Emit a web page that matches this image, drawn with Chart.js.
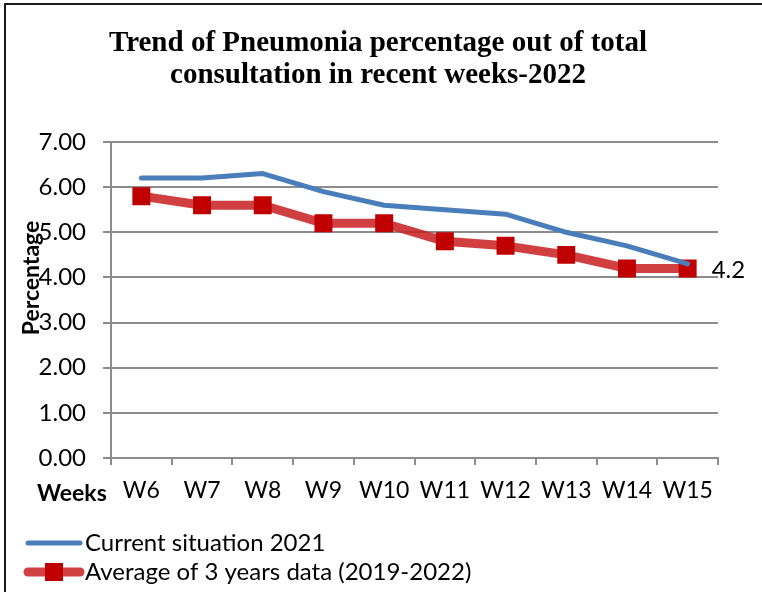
<!DOCTYPE html>
<html>
<head>
<meta charset="utf-8">
<script src="https://cdn.jsdelivr.net/npm/chart.js@4/dist/chart.umd.min.js"></script>
<style>
  html, body { margin: 0; padding: 0; background: #fff; }
  #wrap { position: relative; width: 762px; height: 592px; }
</style>
</head>
<body>
<div id="wrap"><canvas id="c" width="762" height="592"></canvas></div>
<script>
// Weekly pneumonia share of all consultations
const weeks = ['W6', 'W7', 'W8', 'W9', 'W10', 'W11', 'W12', 'W13', 'W14', 'W15'];
const current2021 = [6.2, 6.2, 6.3, 5.9, 5.6, 5.5, 5.4, 5.0, 4.7, 4.3];
const average3yr = [5.8, 5.6, 5.6, 5.2, 5.2, 4.8, 4.7, 4.5, 4.2, 4.2];
const yTicks = [0, 1, 2, 3, 4, 5, 6, 7];

const seriesNames = ['Current situation 2021', 'Average of 3 years data (2019-2022)'];
const titleLines = ['Trend of Pneumonia percentage out of total', 'consultation in recent weeks-2022'];

const BLUE = '#4a7ebb';
const RED_LINE = 'rgba(200, 30, 30, 0.85)';
const RED_MARK = '#c00000';
const GRID = '#8c8c8c';
const SANS = 'Lato, "Open Sans", sans-serif';

// Frame, axis captions, legend and end-of-series value label
const decor = {
  id: 'decor',
  afterDraw(chart) {
    const ctx = chart.ctx;
    ctx.save();

    // outer frame (top and left edges)
    ctx.strokeStyle = '#1a1a1a';
    ctx.lineWidth = 2;
    ctx.beginPath();
    ctx.moveTo(5, 592);
    ctx.lineTo(5, 4);
    ctx.lineTo(762, 4);
    ctx.stroke();

    // y-axis caption
    ctx.fillStyle = '#000';
    ctx.font = 'bold 23px ' + SANS;
    ctx.textAlign = 'center';
    ctx.textBaseline = 'middle';
    ctx.save();
    ctx.translate(32, 278);
    ctx.rotate(-Math.PI / 2);
    ctx.fillText('Percentage', 0, 0);
    ctx.restore();

    // x-axis caption
    ctx.textAlign = 'left';
    ctx.textBaseline = 'alphabetic';
    ctx.font = 'bold 23px ' + SANS;
    ctx.fillText('Weeks', 37, 501);

    // value label at the last point of the average series
    const meta = chart.getDatasetMeta(1);
    const last = average3yr.length - 1;
    const pt = meta.data[last];
    ctx.font = '24px ' + SANS;
    ctx.textBaseline = 'middle';
    ctx.fillText(String(average3yr[last]), pt.x + 24, pt.y + 2);

    // legend
    const items = chart.data.datasets;
    const rows = [543, 572];
    items.forEach((ds, i) => {
      const ly = rows[i];
      ctx.strokeStyle = ds.borderColor;
      ctx.lineWidth = ds.borderWidth;
      ctx.lineCap = 'round';
      ctx.beginPath();
      ctx.moveTo(28, ly);
      ctx.lineTo(80, ly);
      ctx.stroke();
      if (ds.pointRadius > 0) {
        const s = 18;
        ctx.fillStyle = ds.pointBackgroundColor;
        ctx.fillRect(54 - s / 2, ly - s / 2, s, s);
      }
      ctx.fillStyle = '#000';
      ctx.font = '24px ' + SANS;
      ctx.textBaseline = 'middle';
      ctx.textAlign = 'left';
      ctx.fillText(ds.label, 85, ly);
    });

    ctx.restore();
  }
};

new Chart(document.getElementById('c'), {
  type: 'line',
  data: {
    labels: weeks,
    datasets: [
      {
        label: seriesNames[0],
        data: current2021,
        borderColor: BLUE,
        backgroundColor: BLUE,
        borderWidth: 5,
        pointRadius: 0,
        pointHoverRadius: 0,
        tension: 0,
        borderCapStyle: 'round',
        borderJoinStyle: 'round'
      },
      {
        label: seriesNames[1],
        data: average3yr,
        borderColor: RED_LINE,
        backgroundColor: RED_MARK,
        borderWidth: 9,
        pointStyle: 'rect',
        pointRadius: 12.7,
        pointHoverRadius: 12.7,
        pointBackgroundColor: RED_MARK,
        pointBorderColor: RED_MARK,
        pointBorderWidth: 0,
        tension: 0,
        borderCapStyle: 'round',
        borderJoinStyle: 'round'
      }
    ]
  },
  options: {
    responsive: false,
    animation: false,
    devicePixelRatio: 1,
    layout: { padding: { left: 38, right: 44, top: 0, bottom: 84 } },
    plugins: {
      legend: { display: false },
      tooltip: { enabled: false },
      title: {
        display: true,
        text: titleLines,
        color: '#000',
        font: { family: '"Liberation Serif", "Times New Roman", serif', size: 29, weight: 'bold', lineHeight: '32px' },
        padding: { top: 28, bottom: 50 }
      }
    },
    scales: {
      x: {
        type: 'category',
        offset: true,
        grid: {
          offset: true,
          drawOnChartArea: false,
          drawTicks: true,
          tickLength: 7,
          color: GRID,
          lineWidth: 2
        },
        border: { color: GRID, width: 2 },
        ticks: {
          color: '#000',
          font: { family: SANS, size: 23 },
          padding: 12,
          maxRotation: 0,
          autoSkip: false
        },
        afterFit(scale) { scale.height = 50; }
      },
      y: {
        min: 0,
        max: 7,
        afterBuildTicks(scale) { scale.ticks = yTicks.map(v => ({ value: v })); },
        grid: {
          color: GRID,
          lineWidth: 2,
          drawTicks: true,
          tickLength: 8
        },
        border: { color: GRID, width: 2 },
        ticks: {
          color: '#000',
          font: { family: SANS, size: 24 },
          padding: 17,
          callback: v => Number(v).toFixed(2)
        },
        afterFit(scale) { scale.width = 73; }
      }
    }
  },
  plugins: [decor]
});
</script>
</body>
</html>
